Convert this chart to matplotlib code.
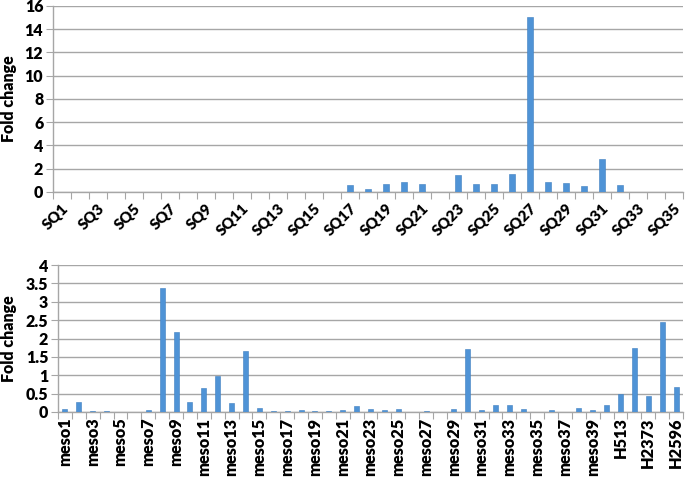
import matplotlib
matplotlib.use("Agg")
import matplotlib.pyplot as plt
import numpy as np

plt.rcParams['font.family'] = ['Lato', 'DejaVu Sans']

sq_labels = [f"SQ{i}" for i in range(1, 36)]
sq_values = [0, 0, 0, 0, 0, 0, 0, 0, 0, 0, 0, 0, 0, 0, 0, 0,
             0.64, 0.23, 0.69, 0.87, 0.69, 0, 1.48, 0.69, 0.69, 1.56,
             15.07, 0.87, 0.81, 0.49, 2.81, 0.58, 0, 0, 0]

meso_labels = [f"meso{i}" for i in range(1, 41)] + ["H513", "H2052", "H2373", "H2452", "H2596"]
meso_values = [0.08, 0.28, 0.03, 0.03, 0, 0, 0.05, 3.37, 2.19, 0.28,
               0.64, 0.97, 0.24, 1.65, 0.11, 0.03, 0.03, 0.05, 0.03, 0.03,
               0.05, 0.15, 0.07, 0.05, 0.08, 0, 0.02, 0, 0.08, 1.72,
               0.05, 0.18, 0.18, 0.08, 0, 0.05, 0, 0.11, 0.05, 0.20,
               0.49, 1.75, 0.44, 2.46, 0.67]

top_yticks = [0, 2, 4, 6, 8, 10, 12, 14, 16]
bot_yticks = [0, 0.5, 1, 1.5, 2, 2.5, 3, 3.5, 4]
bot_ytick_labels = ["0", "0.5", "1", "1.5", "2", "2.5", "3", "3.5", "4"]

W, H = 685, 478
fig = plt.figure(figsize=(W / 100, H / 100), dpi=100)

bar_color = "#4F93D6"
grid_color = "#A6A6A6"


def style_axes(ax, labels, values, yticks, yticklabels, ylim, rot):
    n = len(labels)
    x = np.arange(n)
    ax.bar(x, values, width=0.36, color=bar_color, edgecolor="#3F7FC0", linewidth=0.4, zorder=3)
    ax.set_xlim(-0.5, n - 0.5)
    ax.set_ylim(*ylim)
    ax.set_yticks(yticks)
    ax.set_yticklabels(yticklabels, fontsize=11.5, fontweight='heavy')
    ax.yaxis.grid(True, color=grid_color, linewidth=1.0, zorder=0)
    for s in ["top", "right"]:
        ax.spines[s].set_visible(False)
    for s in ["left", "bottom"]:
        ax.spines[s].set_color(grid_color)
        ax.spines[s].set_linewidth(1.0)
    ax.tick_params(axis='y', length=5, color=grid_color, pad=2)
    ax.set_xticks(np.arange(n + 1) - 0.5)
    ax.set_xticklabels([])
    ax.tick_params(axis='x', which='major', length=5, color=grid_color)
    ax.set_xticks(x[::2], minor=True)
    if rot == 45:
        ax.set_xticklabels(labels[::2], minor=True, rotation=45, ha='right',
                           rotation_mode='anchor', fontsize=11, fontweight='heavy')
        ax.tick_params(axis='x', which='minor', length=0, pad=7)
    else:
        ax.set_xticklabels(labels[::2], minor=True, rotation=90, ha='center',
                           va='top', fontsize=11.8, fontweight='heavy')
        ax.tick_params(axis='x', which='minor', length=0, pad=4)


ax1 = fig.add_axes([53 / W, 1 - 192 / H, (683 - 53) / W, (192 - 6) / H])
style_axes(ax1, sq_labels, sq_values, top_yticks, [str(t) for t in top_yticks], (0, 16), 45)

ax2 = fig.add_axes([58 / W, 1 - 412 / H, (683 - 58) / W, (412 - 265) / H])
style_axes(ax2, meso_labels, meso_values, bot_yticks, bot_ytick_labels, (0, 4), 90)

fig.text(9 / W, 1 - 99 / H, "Fold change", rotation=90, ha='center', va='center',
         fontsize=11.5, fontweight='heavy')
fig.text(9 / W, 1 - 339 / H, "Fold change", rotation=90, ha='center', va='center',
         fontsize=11.5, fontweight='heavy')

fig.savefig("out.png", dpi=100)
